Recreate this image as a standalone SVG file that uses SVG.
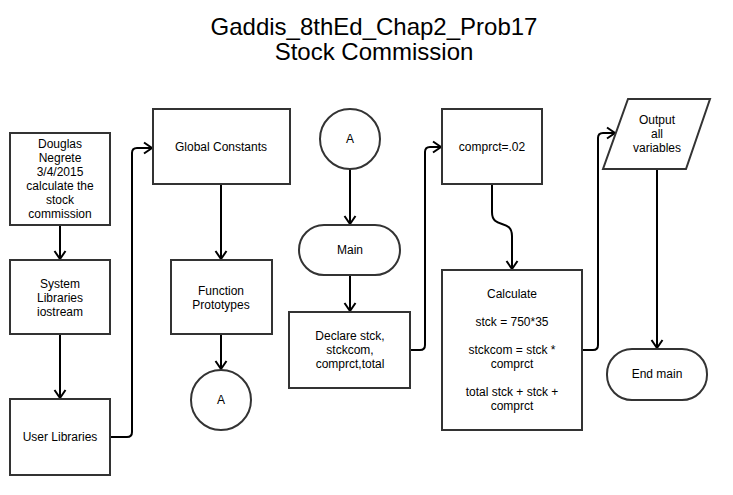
<svg xmlns="http://www.w3.org/2000/svg" width="733" height="495" viewBox="0 0 733 495">
<defs>
<style>
.box{fill:#fff;stroke:#333;stroke-width:2}
.con{fill:none;stroke:#000;stroke-width:2}
text{font-family:"Liberation Sans",Arial,sans-serif;font-size:12px;fill:#000;text-anchor:middle}
.title{font-size:24px}
</style>
<marker id="arr" markerUnits="userSpaceOnUse" markerWidth="14" markerHeight="14" refX="9" refY="6" orient="auto" viewBox="0 0 14 12">
<path d="M1,0.5 L9,6 L1,11.5" fill="none" stroke="#000" stroke-width="2"/>
</marker>
</defs>
<rect width="733" height="495" fill="#fff"/>
<text class="title" x="374" y="35">Gaddis_8thEd_Chap2_Prob17</text>
<text class="title" x="374" y="60">Stock Commission</text>

<g id="connectors">
<path class="con" d="M60,225 V259" marker-end="url(#arr)"/>
<path class="con" d="M60,334 V398" marker-end="url(#arr)"/>
<path class="con" d="M110,437 H127 Q132,437 132,432 V153 Q132,148 137,148 H152" marker-end="url(#arr)"/>
<path class="con" d="M221,184 V259" marker-end="url(#arr)"/>
<path class="con" d="M221,334 V369" marker-end="url(#arr)"/>
<path class="con" d="M350,169 V224" marker-end="url(#arr)"/>
<path class="con" d="M350,275 V311" marker-end="url(#arr)"/>
<path class="con" d="M410,350 H420 Q425,350 425,345 V152 Q425,147 430,147 H441" marker-end="url(#arr)"/>
<path class="con" d="M492,184 V212 C492,230 512,218 512,236 V269" marker-end="url(#arr)"/>
<path class="con" d="M582,350 H593 Q598,350 598,345 V138 Q598,133 603,133 H615" marker-end="url(#arr)"/>
<path class="con" d="M657,169 V348" marker-end="url(#arr)"/>
</g>

<g id="n-header">
<rect class="box" x="10" y="133" width="100" height="92"/>
<text x="60" y="148">Douglas</text>
<text x="60" y="162">Negrete</text>
<text x="60" y="176">3/4/2015</text>
<text x="60" y="190">calculate the</text>
<text x="60" y="204">stock</text>
<text x="60" y="218">commission</text>
</g>
<g id="n-syslib">
<rect class="box" x="10" y="260" width="100" height="74"/>
<text x="60" y="288">System</text>
<text x="60" y="302">Libraries</text>
<text x="60" y="316">iostream</text>
</g>
<g id="n-userlib">
<rect class="box" x="10" y="399" width="100" height="76"/>
<text x="60" y="441">User Libraries</text>
</g>
<g id="n-global">
<rect class="box" x="153" y="109" width="137" height="75"/>
<text x="221" y="151">Global Constants</text>
</g>
<g id="n-proto">
<rect class="box" x="171" y="260" width="101" height="74"/>
<text x="221" y="295">Function</text>
<text x="221" y="309">Prototypes</text>
</g>
<g id="n-a1">
<circle class="box" cx="221" cy="400" r="30"/>
<text x="221" y="404">A</text>
</g>
<g id="n-a2">
<circle class="box" cx="350" cy="139" r="30"/>
<text x="350" y="143">A</text>
</g>
<g id="n-main">
<rect class="box" x="299" y="225" width="101" height="50" rx="25" ry="25"/>
<text x="350" y="254">Main</text>
</g>
<g id="n-declare">
<rect class="box" x="289" y="312" width="121" height="76"/>
<text x="350" y="340">Declare stck,</text>
<text x="350" y="354">stckcom,</text>
<text x="350" y="368">comprct,total</text>
</g>
<g id="n-comprct">
<rect class="box" x="442" y="109" width="100" height="75"/>
<text x="492" y="151">comprct=.02</text>
</g>
<g id="n-calc">
<rect class="box" x="442" y="270" width="140" height="160"/>
<text x="512" y="298">Calculate</text>
<text x="512" y="326">stck = 750*35</text>
<text x="512" y="354">stckcom = stck *</text>
<text x="512" y="368">comprct</text>
<text x="512" y="396">total stck + stck +</text>
<text x="512" y="410">comprct</text>
</g>
<g id="n-output">
<polygon class="box" points="628,99 710,99 686,169 603,169"/>
<text x="657" y="124">Output</text>
<text x="657" y="138">all</text>
<text x="657" y="152">variables</text>
</g>
<g id="n-end">
<rect class="box" x="607" y="349" width="100" height="51" rx="25" ry="25"/>
<text x="657" y="378">End main</text>
</g>
</svg>
